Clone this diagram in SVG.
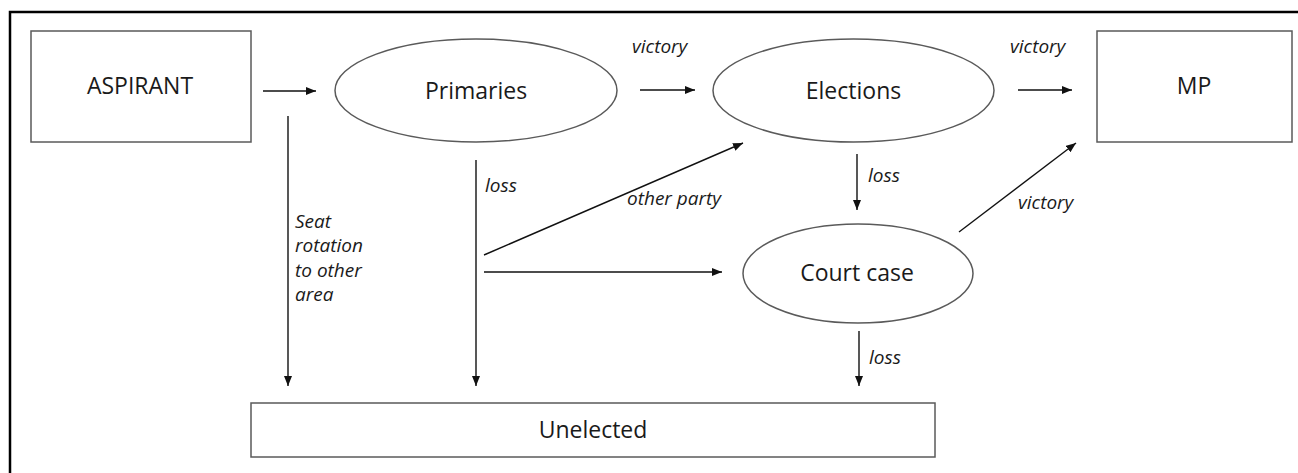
<svg xmlns="http://www.w3.org/2000/svg" width="1298" height="473" viewBox="0 0 1298 473">
<style>
.frame{fill:none;stroke:#000;stroke-width:2.5}
.node{fill:#fff;stroke:#5a5a5a;stroke-width:1.5}
.t{font-family:"Open Sans","Liberation Sans",sans-serif;font-size:23px;fill:#1a1a1a;text-anchor:middle}
.l{font-family:"Open Sans","Liberation Sans",sans-serif;font-size:19px;font-style:italic;fill:#1a1a1a}
.c{fill:none;stroke:#111;stroke-width:1.4;marker-end:url(#ah)}
</style>
<defs>
<marker id="ah" markerUnits="userSpaceOnUse" markerWidth="11" markerHeight="9" refX="10" refY="4" orient="auto">
<path d="M0,0 L10,4 L0,8 z" fill="#111"/>
</marker>
</defs>
<rect width="1298" height="473" fill="#fff"/>
<path class="frame" d="M10,473 V12 H1298"/>
<g id="aspirant"><rect class="node" x="31" y="31" width="220" height="111"/><text class="t" x="140" y="94">ASPIRANT</text></g>
<g id="primaries"><ellipse class="node" cx="476" cy="90.5" rx="141" ry="51.5"/><text class="t" x="476" y="99">Primaries</text></g>
<g id="elections"><ellipse class="node" cx="853.5" cy="90.5" rx="140.5" ry="51.5"/><text class="t" x="853.5" y="99">Elections</text></g>
<g id="mp"><rect class="node" x="1097" y="31" width="195" height="111"/><text class="t" x="1194" y="94">MP</text></g>
<g id="courtcase"><ellipse class="node" cx="858" cy="273.5" rx="115" ry="49.5"/><text class="t" x="857" y="281">Court case</text></g>
<g id="unelected"><rect class="node" x="251" y="403" width="684" height="54"/><text class="t" x="593" y="438">Unelected</text></g>
<g id="connectors">
<line class="c" x1="263" y1="91" x2="316" y2="91"/>
<line class="c" x1="640" y1="90" x2="695" y2="90"/>
<line class="c" x1="1018" y1="90" x2="1072" y2="90"/>
<line class="c" x1="288" y1="116" x2="288" y2="386"/>
<line class="c" x1="476" y1="160" x2="476" y2="386"/>
<line class="c" x1="484" y1="255" x2="743" y2="143"/>
<line class="c" x1="484" y1="272" x2="722" y2="272"/>
<line class="c" x1="857" y1="154" x2="857" y2="210"/>
<line class="c" x1="859" y1="331" x2="859" y2="386"/>
<line class="c" x1="959" y1="232" x2="1076" y2="143"/>
<text class="l" x="632" y="53">victory</text>
<text class="l" x="1010" y="53">victory</text>
<text class="l" x="868" y="182">loss</text>
<text class="l" x="485" y="192">loss</text>
<text class="l" x="627" y="205">other party</text>
<text class="l" x="1018" y="209">victory</text>
<text class="l" x="869" y="364">loss</text>
<text class="l" x="295" y="228">Seat</text>
<text class="l" x="295" y="252">rotation</text>
<text class="l" x="295" y="277">to other</text>
<text class="l" x="295" y="301">area</text>
</g>
</svg>
